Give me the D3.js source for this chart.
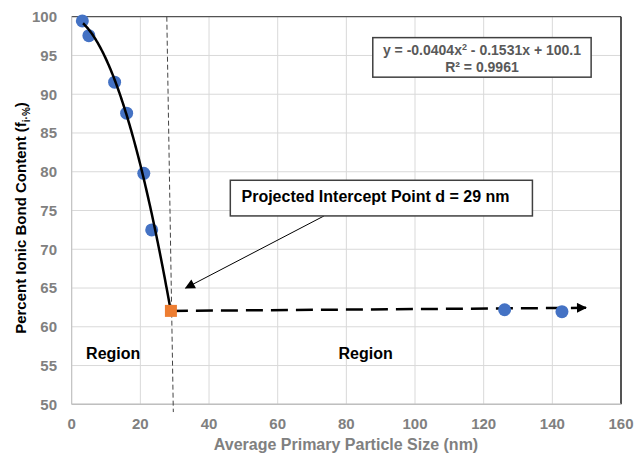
<!DOCTYPE html>
<html>
<head>
<meta charset="utf-8">
<script src="https://cdn.jsdelivr.net/npm/d3@7"></script>
<style>
  body { margin: 0; background: #fff; }
  text { font-family: Arial, "Liberation Sans", sans-serif; }
</style>
</head>
<body>
<div id="chart"></div>
<script>
const sizes = [3.1, 5.0, 12.5, 16.0, 21.0, 23.3, 126.1, 142.8]
const ionic = [99.45, 97.55, 91.55, 87.55, 79.8, 72.5, 62.2, 61.95]
const intercept = [28.9, 62.05]
const trendCoef = [-0.0404, -0.1531, 100.1]
const trendRange = [3.3, 28.9]
const xTicks = [0, 20, 40, 60, 80, 100, 120, 140, 160]
const yTicks = [50, 55, 60, 65, 70, 75, 80, 85, 90, 95, 100]
const dashedArrow = [[28.9, 62.05], [149.8, 62.45]]
const guideLine = [[27.7, 100], [29.6, 49]]
const noteArrow = [[73.5, 74.3], [33.2, 65.0]]

const width = 636, height = 454
const svg = d3.select('#chart').append('svg').attr('width', width).attr('height', height)

const x = d3.scaleLinear().domain([0, 160]).range([71.7, 621])
const y = d3.scaleLinear().domain([50, 100]).range([404.3, 16.7])

const defs = svg.append('defs')
defs.append('marker').attr('id', 'head2').attr('viewBox', '0 0 10 10').attr('refX', 9).attr('refY', 5)
    .attr('markerWidth', 12).attr('markerHeight', 10).attr('markerUnits', 'userSpaceOnUse').attr('orient', 'auto')
    .append('path').attr('d', 'M0,0 L10,5 L0,10 Z').attr('fill', '#000')

// grid
svg.append('g').selectAll('line').data(yTicks).enter().append('line')
    .attr('x1', x(0)).attr('x2', x(160)).attr('y1', d => y(d)).attr('y2', d => y(d))
    .attr('stroke', '#d9d9d9').attr('stroke-width', 1)
svg.append('g').selectAll('line').data(xTicks).enter().append('line')
    .attr('y1', y(50)).attr('y2', y(100)).attr('x1', d => x(d)).attr('x2', d => x(d))
    .attr('stroke', '#d9d9d9').attr('stroke-width', 1)

// plot border: dark top/right, grey axes
svg.append('line').attr('x1', x(0)).attr('x2', x(160)).attr('y1', y(100)).attr('y2', y(100)).attr('stroke', '#333')
svg.append('line').attr('x1', x(160)).attr('x2', x(160)).attr('y1', y(100)).attr('y2', y(50)).attr('stroke', '#222').attr('stroke-width', 1.5)
svg.append('line').attr('x1', x(0)).attr('x2', x(0)).attr('y1', y(100)).attr('y2', y(50)).attr('stroke', '#bfbfbf')
svg.append('line').attr('x1', x(0)).attr('x2', x(160)).attr('y1', y(50)).attr('y2', y(50)).attr('stroke', '#bfbfbf').attr('stroke-width', 1.5)

// tick labels
svg.append('g').selectAll('text').data(yTicks).enter().append('text')
    .attr('x', 57).attr('y', d => y(d)).attr('dy', '0.36em').attr('text-anchor', 'end')
    .attr('font-size', 15).attr('font-weight', 'bold').attr('fill', '#808080').text(d => d)
svg.append('g').selectAll('text').data(xTicks).enter().append('text')
    .attr('x', d => x(d)).attr('y', 429).attr('text-anchor', 'middle')
    .attr('font-size', 15).attr('font-weight', 'bold').attr('fill', '#808080').text(d => d)

// axis titles
svg.append('text').attr('x', 346).attr('y', 450).attr('text-anchor', 'middle')
    .attr('font-size', 16).attr('font-weight', 'bold').attr('fill', '#808080')
    .text('Average Primary Particle Size (nm)')
const yt = svg.append('text').attr('transform', 'translate(26,218) rotate(-90)').attr('text-anchor', 'middle')
    .attr('font-size', 15).attr('font-weight', 'bold').attr('fill', '#000')
yt.append('tspan').text('Percent Ionic Bond Content (f')
yt.append('tspan').attr('font-size', 10).attr('dy', 4).text('i·%')
yt.append('tspan').attr('dy', -4).text(')')

// vertical guide
svg.append('line').attr('x1', x(guideLine[0][0])).attr('y1', y(guideLine[0][1]))
    .attr('x2', x(guideLine[1][0])).attr('y2', y(guideLine[1][1]))
    .attr('stroke', '#444').attr('stroke-width', 1).attr('stroke-dasharray', '5,3')

// horizontal dashed arrow
svg.append('line').attr('x1', x(dashedArrow[0][0])).attr('y1', y(dashedArrow[0][1]))
    .attr('x2', x(dashedArrow[1][0])).attr('y2', y(dashedArrow[1][1]))
    .attr('stroke', '#000').attr('stroke-width', 2.5).attr('stroke-dasharray', '17,8')
    .attr('marker-end', 'url(#head2)')

// points
svg.selectAll('circle.pt').data(sizes).enter().append('circle').attr('class', 'pt')
    .attr('cx', d => x(d)).attr('cy', (d, i) => y(ionic[i])).attr('r', 6.5).attr('fill', '#4472c4')

// trendline
const trend = d3.range(trendRange[0], trendRange[1] + 0.01, 0.2)
const Gen = d3.line().x(d => x(d)).y(d => y(trendCoef[0] * d * d + trendCoef[1] * d + trendCoef[2]))
svg.append('path').attr('d', Gen(trend)).attr('fill', 'none').attr('stroke', '#000').attr('stroke-width', 2.5)

// intercept square
svg.append('rect').attr('x', x(intercept[0]) - 6).attr('y', y(intercept[1]) - 6).attr('width', 12).attr('height', 12)
    .attr('fill', '#ed7d31')

// note arrow
svg.append('line').attr('x1', x(noteArrow[0][0])).attr('y1', y(noteArrow[0][1]))
    .attr('x2', x(noteArrow[1][0])).attr('y2', y(noteArrow[1][1]))
    .attr('stroke', '#000').attr('stroke-width', 1).attr('marker-end', 'url(#head2)')

// equation box
svg.append('rect').attr('x', x(87.7)).attr('y', y(97.3)).attr('width', x(151.3) - x(87.7)).attr('height', y(92.2) - y(97.3))
    .attr('fill', '#fff').attr('stroke', '#404040').attr('stroke-width', 1.5)
const eq = svg.append('text').attr('x', (x(87.7) + x(151.3)) / 2).attr('y', 55).attr('text-anchor', 'middle')
    .attr('font-size', 14).attr('font-weight', 'bold').attr('fill', '#595959')
eq.append('tspan').text('y = -0.0404x')
eq.append('tspan').attr('font-size', 9).attr('dy', -5).text('2')
eq.append('tspan').attr('dy', 5).text(' - 0.1531x + 100.1')
svg.append('text').attr('x', (x(87.7) + x(151.3)) / 2).attr('y', 72).attr('text-anchor', 'middle')
    .attr('font-size', 14).attr('font-weight', 'bold').attr('fill', '#595959').text('R² = 0.9961')

// projected box
svg.append('rect').attr('x', x(46.2)).attr('y', y(78.9)).attr('width', x(134.2) - x(46.2)).attr('height', y(74.3) - y(78.9))
    .attr('fill', '#fff').attr('stroke', '#404040').attr('stroke-width', 1.5)
svg.append('text').attr('x', 241.5).attr('y', 202).attr('text-anchor', 'start')
    .attr('font-size', 16).attr('font-weight', 'bold').attr('fill', '#000').text('Projected Intercept Point d = 29 nm')

// region labels
svg.append('text').attr('x', x(4.2)).attr('y', 359).attr('font-size', 16).attr('font-weight', 'bold').text('Region')
svg.append('text').attr('x', x(77.7)).attr('y', 359).attr('font-size', 16).attr('font-weight', 'bold').text('Region')
</script>
</body>
</html>
